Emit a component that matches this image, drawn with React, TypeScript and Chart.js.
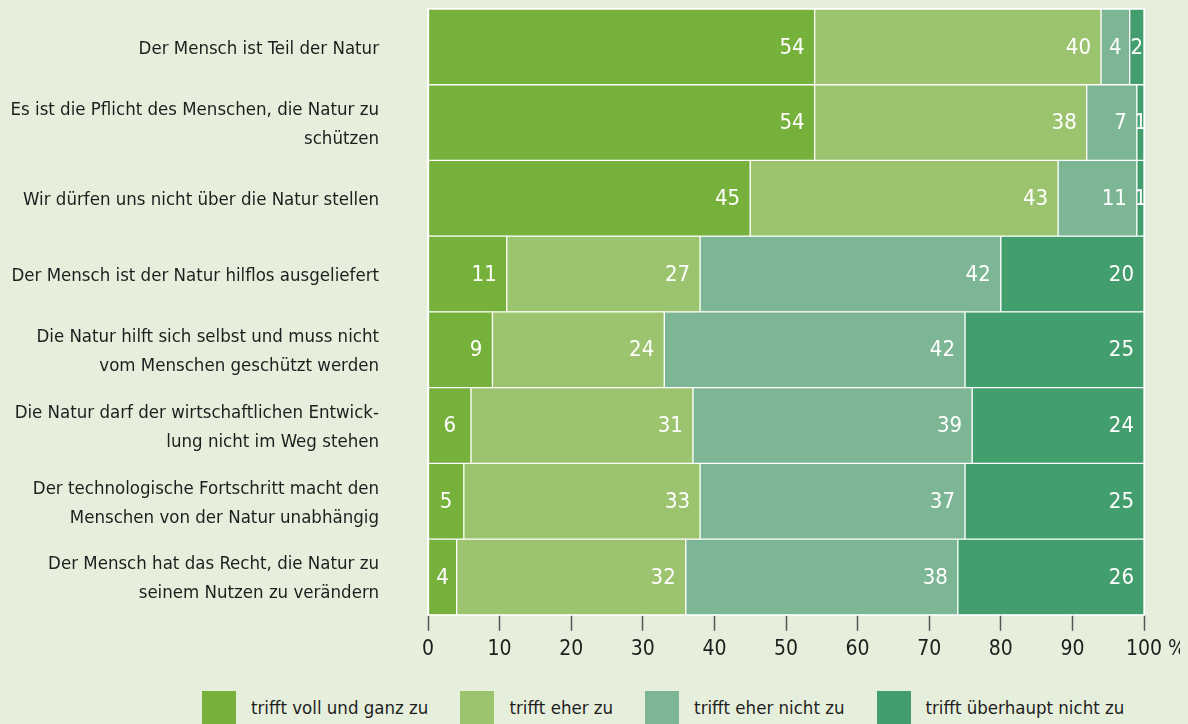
import React, { useEffect, useRef } from "react";
import { Chart, registerables } from "chart.js";

Chart.register(...registerables);

const FONT = "'Liberation Sans Narrow', 'DejaVu Sans Condensed', 'Noto Sans', sans-serif";

const categories: string[][] = [
  ["Der Mensch ist Teil der Natur"],
  ["Es ist die Pflicht des Menschen, die Natur zu", "schützen"],
  ["Wir dürfen uns nicht über die Natur stellen"],
  ["Der Mensch ist der Natur hilflos ausgeliefert"],
  ["Die Natur hilft sich selbst und muss nicht", "vom Menschen geschützt werden"],
  ["Die Natur darf der wirtschaftlichen Entwick-", "lung nicht im Weg stehen"],
  ["Der technologische Fortschritt macht den", "Menschen von der Natur unabhängig"],
  ["Der Mensch hat das Recht, die Natur zu", "seinem Nutzen zu verändern"],
];

const seriesNames = [
  "trifft voll und ganz zu",
  "trifft eher zu",
  "trifft eher nicht zu",
  "trifft überhaupt nicht zu",
];

const trifftVollUndGanz = [54, 54, 45, 11, 9, 6, 5, 4];
const trifftEher = [40, 38, 43, 27, 24, 31, 33, 32];
const trifftEherNicht = [4, 7, 11, 42, 42, 39, 37, 38];
const trifftUeberhauptNicht = [2, 1, 1, 20, 25, 24, 25, 26];

const seriesColors = ["#76b13b", "#9cc46e", "#7db694", "#429e6c"];

const xTickValues = [0, 10, 20, 30, 40, 50, 60, 70, 80, 90, 100];
const xUnit = "%";

const BG = "#e6efdc";
const TEXT = "#1e1e1e";

const frameAndLabels = {
  id: "frameAndLabels",
  beforeDatasetsDraw(chart: any) {
    const { ctx, chartArea } = chart;
    ctx.save();
    ctx.fillStyle = "#ffffff";
    ctx.fillRect(chartArea.left - 1, 0, chartArea.right - chartArea.left + 2, chartArea.bottom + 1);
    ctx.restore();
  },
  afterDatasetsDraw(chart: any) {
    const { ctx } = chart;
    ctx.save();
    ctx.fillStyle = "#ffffff";
    ctx.font = `22px ${FONT}`;
    ctx.textBaseline = "middle";
    chart.data.datasets.forEach((ds: any, di: number) => {
      const meta = chart.getDatasetMeta(di);
      meta.data.forEach((el: any, j: number) => {
        const v = ds.data[j];
        const w = el.x - el.base;
        const y = el.y + 1;
        if (w < 50) {
          ctx.textAlign = "center";
          ctx.fillText(String(v), (el.x + el.base) / 2, y);
        } else {
          ctx.textAlign = "right";
          ctx.fillText(String(v), el.x - 10, y);
        }
      });
    });
    ctx.restore();
  },
  afterDraw(chart: any) {
    const { ctx } = chart;
    const xs = chart.scales.x;
    const last = xTickValues[xTickValues.length - 1];
    const px = xs.getPixelForValue(last);
    ctx.save();
    ctx.font = `21px ${FONT}`;
    ctx.fillStyle = TEXT;
    ctx.textBaseline = "middle";
    ctx.textAlign = "left";
    const half = ctx.measureText(String(last)).width / 2;
    const y = chart.chartArea.bottom + 16 + 6 + 12.5;
    ctx.fillText(" " + xUnit, px + half, y);
    ctx.restore();
  },
};

export default function App() {
  const canvasRef = useRef<HTMLCanvasElement | null>(null);

  useEffect(() => {
    document.body.style.margin = "0";
    document.documentElement.style.overflow = "hidden";
    const canvas = canvasRef.current;
    if (!canvas) return;
    const datasetValues = [trifftVollUndGanz, trifftEher, trifftEherNicht, trifftUeberhauptNicht];
    const chart = new Chart(canvas, {
      type: "bar",
      data: {
        labels: categories,
        datasets: datasetValues.map((vals, i) => ({
          label: seriesNames[i],
          data: vals,
          backgroundColor: seriesColors[i],
          borderColor: "#ffffff",
          borderWidth: 1,
          borderSkipped: false,
          barPercentage: 1,
          categoryPercentage: 1,
        })),
      },
      plugins: [frameAndLabels],
      options: {
        indexAxis: "y",
        animation: false,
        responsive: false,
        maintainAspectRatio: false,
        layout: { padding: { top: 1, right: 36, bottom: 8, left: 0 } },
        plugins: {
          legend: { display: false },
          tooltip: { enabled: false },
        },
        scales: {
          x: {
            stacked: true,
            min: 0,
            max: 100,
            afterBuildTicks: (scale: any) => {
              scale.ticks = xTickValues.map((v) => ({ value: v }));
            },
            ticks: {
              font: { family: FONT, size: 21 },
              color: TEXT,
              padding: 6,
              maxRotation: 0,
              autoSkip: false,
              callback: (v: any) => String(v),
            },
            grid: {
              display: true,
              drawOnChartArea: false,
              drawTicks: true,
              tickLength: 16,
              tickWidth: 1.5,
              tickColor: "#555555",
            },
            border: { display: false },
          },
          y: {
            stacked: true,
            afterFit: (scale: any) => {
              scale.width = 420;
              scale.paddingTop = 0;
              scale.paddingBottom = 0;
            },
            ticks: {
              font: { family: FONT, size: 18.5, lineHeight: "29px" } as any,
              color: TEXT,
              padding: 49,
              labelOffset: 2,
              autoSkip: false,
            },
            grid: { display: false, drawTicks: false },
            border: { display: false },
          },
        },
      } as any,
    });
    return () => chart.destroy();
  }, []);

  return (
    <div
      style={{
        width: 1188,
        height: 724,
        boxSizing: "border-box",
        padding: 8,
        background: BG,
        position: "relative",
        overflow: "hidden",
        fontFamily: FONT,
      }}
    >
      <canvas ref={canvasRef} width={1172} height={668} style={{ display: "block" }} />
      <div
        style={{
          position: "absolute",
          left: 202,
          top: 691,
          display: "flex",
          alignItems: "center",
          gap: 32,
        }}
      >
        {seriesNames.map((name, i) => (
          <div key={name} style={{ display: "flex", alignItems: "center" }}>
            <span
              style={{
                display: "inline-block",
                width: 34,
                height: 33,
                background: seriesColors[i],
                marginRight: 15,
              }}
            />
            <span style={{ fontSize: 18.5, color: TEXT, whiteSpace: "nowrap" }}>{name}</span>
          </div>
        ))}
      </div>
    </div>
  );
}
